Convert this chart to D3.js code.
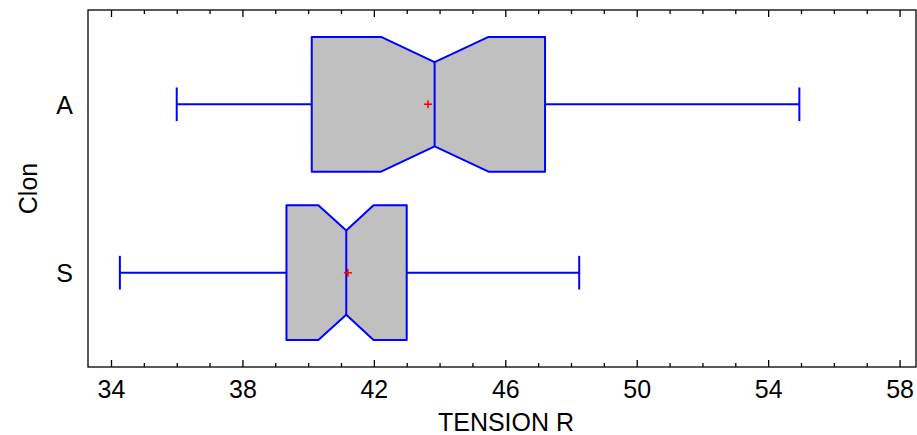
<!DOCTYPE html>
<html>
<head>
<meta charset="utf-8">
<script src="https://cdn.jsdelivr.net/npm/d3@7"></script>
<style>
  body { margin: 0; background: #fff; }
  svg text { font-family: Arial, "Liberation Sans", sans-serif; fill: #000; }
</style>
</head>
<body>
<div id="chart"></div>
<script>
// --- data ---
const clones = ["A", "S"];
const minVals = [36.0, 34.27];
const q1Vals = [40.11, 39.34];
const medianVals = [43.85, 41.16];
const q3Vals = [47.21, 43.0];
const maxVals = [54.95, 48.25];
const meanVals = [43.65, 41.21];
const notchLowVals = [42.22, 40.31];
const notchHighVals = [45.49, 41.99];

const majorTicks = [34, 38, 42, 46, 50, 54, 58];
const minorTicks = d3.range(34, 59, 1).filter(t => !majorTicks.includes(t));

// --- layout ---
let wSvg = 917, hSvg = 435;
let plotLeft = 88, plotRight = 916, plotTop = 10, plotBottom = 367;

let svg = d3.select("#chart").append("svg")
    .attr("width", wSvg).attr("height", hSvg);

const xScale = d3.scaleLinear()
    .domain([33.3, 58.5])
    .range([plotLeft, plotRight]);

const yScale = d3.scalePoint()
    .domain(clones)
    .range([plotTop, plotBottom])
    .padding(0.56);

const step = yScale.step();
const boxHalf = step * 0.4;
const notchHalf = step * 0.25;
const capHalf = step * 0.1;

// frame
svg.append("rect")
    .attr("x", plotLeft).attr("y", plotTop)
    .attr("width", plotRight - plotLeft).attr("height", plotBottom - plotTop)
    .attr("fill", "none").attr("stroke", "#000").attr("stroke-width", 1.3);

// bottom axis, ticks pointing inward
let bottomAxis = svg.append("g")
    .attr("transform", `translate(0, ${plotBottom})`)
    .call(d3.axisBottom(xScale).tickValues(majorTicks).tickSize(-7).tickPadding(13));
bottomAxis.select(".domain").remove();
bottomAxis.selectAll("text").style("font-size", "25px");

let bottomMinor = svg.append("g")
    .attr("transform", `translate(0, ${plotBottom})`)
    .call(d3.axisBottom(xScale).tickValues(minorTicks).tickSize(-4).tickFormat(""));
bottomMinor.select(".domain").remove();

// top axis, same ticks pointing down
let topAxis = svg.append("g")
    .attr("transform", `translate(0, ${plotTop})`)
    .call(d3.axisTop(xScale).tickValues(majorTicks).tickSize(-7).tickFormat(""));
topAxis.select(".domain").remove();

let topMinor = svg.append("g")
    .attr("transform", `translate(0, ${plotTop})`)
    .call(d3.axisTop(xScale).tickValues(minorTicks).tickSize(-4).tickFormat(""));
topMinor.select(".domain").remove();

svg.selectAll(".tick line").attr("stroke", "#000").attr("stroke-width", 1.3);

// left axis labels
let leftAxis = svg.append("g")
    .attr("transform", `translate(${plotLeft}, 0)`)
    .call(d3.axisLeft(yScale).tickSize(0).tickPadding(15));
leftAxis.select(".domain").remove();
leftAxis.selectAll("text").style("font-size", "25px").attr("dy", "0.36em");

// axis titles
svg.append("text")
    .attr("x", (plotLeft + plotRight) / 2 + 4).attr("y", 431)
    .attr("text-anchor", "middle")
    .style("font-size", "25px")
    .text("TENSION R");

svg.append("text")
    .attr("transform", `translate(37, ${(plotTop + plotBottom) / 2}) rotate(-90)`)
    .attr("text-anchor", "middle")
    .style("font-size", "25px")
    .text("Clon");

// boxes
const boxes = clones.map((c, i) => ({
    clon: c,
    min: minVals[i], q1: q1Vals[i], med: medianVals[i], q3: q3Vals[i],
    max: maxVals[i], mean: meanVals[i], nLo: notchLowVals[i], nHi: notchHighVals[i]
}));

const blue = "#0000ff";

let g = svg.selectAll("g.box")
    .data(boxes)
    .enter()
    .append("g")
    .attr("class", "box");

// whiskers
g.append("line")
    .attr("x1", d => xScale(d.min)).attr("x2", d => xScale(d.q1))
    .attr("y1", d => yScale(d.clon)).attr("y2", d => yScale(d.clon))
    .attr("stroke", blue).attr("stroke-width", 2);
g.append("line")
    .attr("x1", d => xScale(d.q3)).attr("x2", d => xScale(d.max))
    .attr("y1", d => yScale(d.clon)).attr("y2", d => yScale(d.clon))
    .attr("stroke", blue).attr("stroke-width", 2);
g.append("line")
    .attr("x1", d => xScale(d.min)).attr("x2", d => xScale(d.min))
    .attr("y1", d => yScale(d.clon) - capHalf).attr("y2", d => yScale(d.clon) + capHalf)
    .attr("stroke", blue).attr("stroke-width", 2);
g.append("line")
    .attr("x1", d => xScale(d.max)).attr("x2", d => xScale(d.max))
    .attr("y1", d => yScale(d.clon) - capHalf).attr("y2", d => yScale(d.clon) + capHalf)
    .attr("stroke", blue).attr("stroke-width", 2);

// notched box
g.append("path")
    .attr("d", d => {
        let cy = yScale(d.clon);
        let pts = [
            [xScale(d.q1), cy - boxHalf],
            [xScale(d.nLo), cy - boxHalf],
            [xScale(d.med), cy - notchHalf],
            [xScale(d.nHi), cy - boxHalf],
            [xScale(d.q3), cy - boxHalf],
            [xScale(d.q3), cy + boxHalf],
            [xScale(d.nHi), cy + boxHalf],
            [xScale(d.med), cy + notchHalf],
            [xScale(d.nLo), cy + boxHalf],
            [xScale(d.q1), cy + boxHalf]
        ];
        return d3.line()(pts) + "Z";
    })
    .attr("fill", "#c0c0c0")
    .attr("stroke", blue).attr("stroke-width", 2)
    .attr("stroke-linejoin", "round");

// median line
g.append("line")
    .attr("x1", d => xScale(d.med)).attr("x2", d => xScale(d.med))
    .attr("y1", d => yScale(d.clon) - notchHalf).attr("y2", d => yScale(d.clon) + notchHalf)
    .attr("stroke", blue).attr("stroke-width", 2);

// mean marker
g.append("path")
    .attr("d", d => {
        let mx = xScale(d.mean), my = yScale(d.clon);
        return `M${mx - 4},${my}H${mx + 4}M${mx},${my - 4}V${my + 4}`;
    })
    .attr("stroke", "#ff0000").attr("stroke-width", 1.5).attr("fill", "none");
</script>
</body>
</html>
